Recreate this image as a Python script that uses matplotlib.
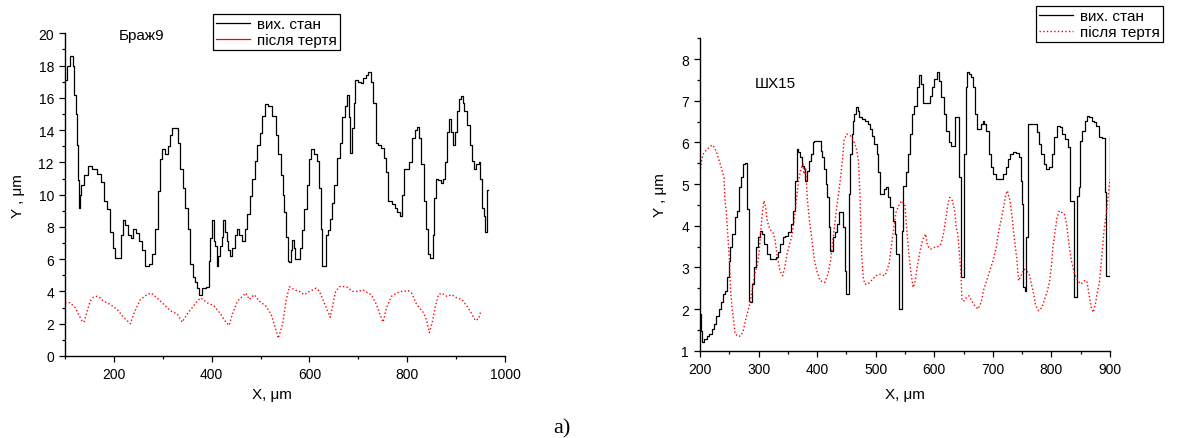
import matplotlib
matplotlib.use("Agg")
import matplotlib.pyplot as plt
from matplotlib.ticker import MultipleLocator

plt.rcParams['font.family'] = ['Liberation Sans', 'DejaVu Sans']

# --- Браж9 profile (left panel) ---
braz_x0 = [102, 104.8, 113.7, 117.1, 120.6, 122.6, 125.3, 127.4, 129.5, 132.2, 134.9, 141.1,
           151.4, 158.2, 171.9, 175.4, 182.2, 189, 195.9, 200.7, 204.8, 211.7, 216.5, 219.9,
           225.4, 233.6, 237, 241.8, 248.6, 254.1, 261, 267.8, 276, 281.5, 288.4, 291.8,
           296.6, 302.1, 307.6, 312.4, 315.8, 321.3, 329.5, 332.9, 337.7, 343.2, 348.7,
           353.5, 358.9, 363.7, 367.2, 372, 377.4, 384.3, 393.2, 395.9, 399.3, 402.8, 406.2,
           408.9, 411.7, 415.1, 418.5, 422, 425.4, 429.5, 432.2, 435.7, 440.4, 444.6, 449.4,
           452.8, 459.6, 465.1, 469.9, 474.7, 480.2, 485, 490.5, 495.2, 500.7, 506.2, 511,
           519.9, 528.1, 533.6, 538.4, 543.2, 547, 550, 553.5, 557, 560.3, 562.3, 565.8,
           569.2, 572.6, 578.1, 582.9, 587.7, 591.8, 596.6, 601.4, 606.9, 612.3, 617.1,
           621.9, 625.3, 627.4, 632.2, 634.3, 639.7, 644.5, 648, 653.4, 660.3, 665.1, 669.9,
           675.4, 678.8, 682.2, 685.6, 689.1, 692.5, 695.9, 702.8, 708.2, 711.7, 717.8,
           723.3, 728.1, 733.6, 738.4, 743.9, 749.3, 754.1, 758.9, 764.4, 771.3, 776.7,
           781.5, 788.4, 791.8, 795.2, 802.1, 806.9, 812.4, 817.8, 822.6, 826.1, 831.5,
           836.3, 841.1, 844.5, 850, 853.5, 856.9, 860.3, 867.2, 872, 875.4, 879.5, 884.3,
           887.7, 892.5, 895.9, 900, 902.8, 908.3, 911.7, 915.1, 919.2, 925.4, 930.2, 934.3,
           939.1, 943.9, 948, 951.4, 954.9, 957.6, 961, 963, 964.4]
braz_y0 = [17.1, 18.0, 18.6, 18.0, 16.2, 15.0, 13.1, 10.9, 9.2, 10.0, 10.6, 11.2,
           11.8, 11.6, 11.3, 10.8, 9.6, 9.1, 7.7, 6.7, 6.1, 6.1, 7.5, 8.45,
           8.1, 7.5, 7.3, 7.9, 7.6, 7.1, 6.6, 5.6, 5.7, 6.3, 7.9, 10.2,
           12.2, 12.8, 12.5, 13.0, 13.7, 14.1, 14.1, 13.2, 11.6, 10.4, 9.2,
           7.9, 5.7, 4.9, 4.6, 4.2, 3.8, 4.2, 4.3, 5.9, 7.3, 8.45, 7.1,
           6.8, 5.6, 6.2, 6.8, 7.4, 8.45, 7.7, 7.1, 6.6, 6.2, 6.7, 7.5,
           7.9, 7.5, 7.1, 7.9, 8.8, 9.9, 11.0, 12.1, 13.1, 13.8, 14.9, 15.6,
           15.5, 14.9, 13.7, 12.5, 11.2, 10.0, 8.9, 7.4, 5.9, 5.8, 6.6, 7.2,
           6.7, 6.0, 6.0, 6.7, 7.8, 9.1, 10.6, 12.2, 12.8, 12.5, 12.1,
           10.4, 7.9, 5.6, 5.6, 7.5, 7.8, 8.5, 9.5, 10.6, 12.3, 13.2, 14.8,
           15.5, 16.2, 14.8, 12.6, 14.1, 15.7, 17.1, 17.0, 16.9, 17.2, 17.4,
           17.6, 17.0, 15.7, 13.2, 13.1, 12.9, 12.3, 11.4, 9.6, 9.4, 9.2,
           8.9, 8.7, 10.0, 11.6, 11.6, 12.0, 13.5, 14.0, 14.2, 13.5, 11.9,
           9.6, 7.9, 6.3, 6.1, 7.5, 9.8, 11.0, 10.9, 10.7, 11.0, 12.0, 13.9,
           14.7, 13.9, 13.1, 13.9, 15.2, 15.9, 16.1, 15.7, 15.2, 14.3, 13.1, 12.1,
           11.6, 11.9, 12.0, 11.0, 9.2, 8.7, 7.7, 7.7, 10.3]

braz_x1 = [100, 110.3, 120.6, 127.4, 134.3, 139, 144.5, 151.4, 158.2, 165.1, 171.9, 178.8,
           192.5, 206.2, 219.9, 233.6, 240.4, 254.1, 267.8, 276, 288.4, 302.1, 315.8, 329.5,
           339.8, 350, 360.3, 370.6, 377.4, 391.1, 404.8, 418.5, 428.8, 435.7, 442.5, 452.8,
           463.1, 469.9, 476.8, 487, 497.3, 511, 521.3, 530.2, 536.3, 545.3, 552, 558.9,
           569.2, 579.5, 589.7, 600, 613.7, 620.6, 627.4, 634.3, 642.5, 648, 653.4, 661.7,
           675.4, 689.1, 699.3, 709.6, 719.9, 726.7, 737, 743.9, 750.7, 757.6, 767.8, 778.1,
           788.4, 802.1, 808.9, 819.2, 832.9, 839.8, 845.2, 852.1, 856.9, 863.7, 870.6,
           880.9, 891.1, 901.4, 911.7, 922, 932.2, 939.1, 946, 950.7]
braz_y1 = [3.3, 3.3, 3.0, 2.6, 2.2, 2.1, 2.7, 3.4, 3.65, 3.7, 3.6, 3.4,
           3.2, 2.9, 2.4, 2.0, 2.6, 3.5, 3.8, 3.9, 3.6, 3.2, 2.8, 2.6,
           2.1, 2.6, 3.0, 3.4, 3.6, 3.3, 3.1, 2.6, 2.1, 1.9, 2.6, 3.4,
           3.7, 3.9, 3.5, 3.8, 3.4, 3.1, 2.6, 1.75, 1.1, 2.0, 3.4, 4.3,
           4.1, 4.0, 3.8, 4.0, 4.2, 4.0, 3.5, 3.0, 2.4, 3.2, 4.0, 4.3,
           4.3, 4.0, 4.0, 4.1, 3.9, 3.8, 3.2, 2.6, 2.1, 3.0, 3.7, 3.9,
           4.0, 4.05, 3.9, 3.2, 2.7, 2.2, 1.45, 2.2, 3.0, 3.8, 3.9,
           3.7, 3.8, 3.6, 3.5, 3.1, 2.6, 2.2, 2.3, 2.8]

# --- ШХ15 profile (right panel) ---
shx_x0 = [200, 202.7, 205.5, 209.8, 213.7, 217.5, 221.9, 226.2, 230.1, 233.9, 237.2, 241,
          244.8, 248.1, 250.3, 253.5, 257.4, 261.2, 264.5, 268.3, 272.1, 275.4, 279.2, 282,
          284.7, 287.4, 290.2, 294, 298.4, 301.1, 303.8, 308.2, 312, 317.5, 322.9, 328.4,
          332.2, 335.5, 339.3, 343.2, 348.6, 353, 357.4, 361.2, 363.9, 366.7, 369.4, 372.1,
          374.8, 378.7, 380.3, 383.6, 386.9, 391.2, 394, 396.7, 404.9, 407.6, 410.4, 413.1,
          415.8, 418.6, 421.3, 424, 426.8, 428.4, 432.2, 436, 439.3, 443.1, 445.9, 448.6,
          450.2, 453, 455.7, 457.9, 459.5, 462.3, 465, 467.7, 470.5, 473.2, 478.7, 484.1,
          488.5, 492.3, 496.1, 499.4, 503.3, 506, 508.7, 512.5, 515.8, 519.6, 522.4, 527.8,
          532.2, 533.6, 536.3, 539.1, 540.2, 543.4, 545.6, 548.9, 551.1, 553.3, 556.6,
          559.8, 563.7, 567.5, 571.9, 575.7, 580.1, 582.8, 591, 593.7, 598.1, 601.9, 605.7,
          610.1, 614.5, 618.3, 622.1, 626.5, 630.9, 634.7, 637.4, 641.8, 644, 645.6, 647.3,
          650, 652.7, 654.9, 656.5, 660.4, 664.7, 668.6, 671.3, 674.6, 678.4, 681.1, 683.9,
          686.6, 691, 694.8, 698.6, 703, 708.5, 715, 719.4, 723.8, 727.6, 731.4, 735.8,
          742.3, 746.7, 749.4, 751.1, 752.2, 756, 758.7, 762, 774, 776.8, 780.6, 785,
          789.3, 793.1, 798.6, 802.4, 806.8, 811.2, 816.6, 820.5, 825.9, 829.8, 833,
          836.9, 838.5, 842.9, 845.1, 847.8, 850.5, 854.9, 858.7, 862.5, 866.9, 871.3,
          875.1, 877.8, 883, 891, 893, 895, 899, 900]
shx_y0 = [1.88, 1.48, 1.22, 1.28, 1.36, 1.4, 1.52, 1.64, 1.84, 2.0, 2.16, 2.36,
          2.44, 2.76, 3.16, 3.48, 3.8, 4.2, 4.36, 4.92, 5.16, 5.48, 5.5, 4.4,
          2.2, 2.16, 2.6, 3.0, 3.48, 3.72, 3.88, 3.8, 3.56, 3.32, 3.2, 3.2,
          3.24, 3.36, 3.56, 3.72, 3.76, 3.84, 4.04, 4.36, 5.08, 5.84, 5.76, 5.64,
          5.44, 5.36, 5.08, 5.32, 5.56, 5.72, 6.0, 6.04, 6.04, 5.8, 5.64, 5.36,
          5.0, 4.68, 3.96, 3.4, 3.4, 3.72, 3.84, 4.04, 4.32, 4.32, 3.96, 2.92,
          2.36, 2.36, 4.76, 5.72, 6.2, 6.52, 6.68, 6.84, 6.76, 6.6, 6.56, 6.52,
          6.44, 6.32, 6.16, 5.96, 5.72, 5.28, 4.76, 4.76, 4.88, 4.92, 4.68, 4.44,
          4.12, 3.8, 3.32, 3.32, 2.0, 2.0, 3.88, 4.96, 4.96, 5.28, 5.72,
          6.2, 6.68, 6.88, 7.32, 7.62, 7.4, 6.94, 6.94, 7.12, 7.32, 7.52, 7.68,
          7.48, 7.08, 6.68, 6.28, 6.0, 5.92, 5.92, 6.6, 6.6, 5.16, 3.96, 2.76,
          2.76, 5.72, 7.32, 7.68, 7.64, 7.56, 7.32, 6.68, 6.32, 6.32, 6.44, 6.52,
          6.44, 6.28, 5.72, 5.4, 5.24, 5.12, 5.12, 5.24, 5.4, 5.6, 5.72, 5.76,
          5.74, 5.64, 5.08, 4.52, 2.52, 2.44, 3.72, 6.44, 6.44, 6.24, 5.96, 5.72,
          5.48, 5.36, 5.4, 5.72, 6.12, 6.4, 6.36, 6.2, 6.08, 5.88, 4.6,
          4.6, 2.28, 2.28, 4.72, 4.92, 6.04, 6.28, 6.52, 6.64, 6.6, 6.52,
          6.48, 6.4, 6.13, 6.1, 4.8, 2.8, 2.8, 6.15]

shx_x1 = [200, 202.7, 205.5, 209.8, 215.3, 220.8, 224.6, 228.4, 232.8, 237.2, 241, 242.6,
          244.8, 248.1, 250.3, 251.9, 254.6, 257.4, 260.1, 265.6, 269.9, 273.8, 277.6, 282,
          286.3, 290.2, 294, 298.4, 301.1, 303.8, 306.5, 309.3, 312, 314.7, 319.1, 324.6,
          328.4, 332.2, 336.6, 341, 344.8, 348.6, 353, 357.4, 361.2, 365, 368.3, 372.1,
          375.9, 377.6, 380.3, 383, 386.9, 391.2, 395.6, 399.4, 404.9, 413.1, 418.6, 422.9,
          426.8, 430.6, 435, 439.3, 443.1, 445.9, 450.2, 456.8, 462.3, 466.6, 470.5, 473.2,
          475.9, 478.7, 481.4, 486.9, 492.3, 500.5, 506, 515.8, 522.7, 527.1, 530.9, 534.7,
          539.1, 544.5, 550, 552.7, 556.6, 559.8, 563.7, 566.4, 570.8, 574.6, 578.4, 581.7,
          585.5, 588.2, 593.7, 599.2, 604.6, 611.2, 615.6, 619.9, 623.8, 626.5, 630.9,
          634.7, 637.4, 640.2, 642.9, 645.6, 647.3, 651.1, 655, 659.3, 663.7, 669.1, 674.6,
          680, 683.9, 689.3, 694.8, 700.3, 705.7, 709.5, 713.9, 718.3, 722.1, 724.8, 729.2,
          733, 735.8, 738.5, 741.2, 744, 749.4, 753.3, 757.6, 762, 765.8, 769.7, 773,
          778.4, 783.9, 787.7, 793.1, 797, 800.3, 802.4, 805.7, 809.5, 813.4, 817.7, 822.1,
          826, 829.8, 834.1, 839.6, 845.1, 850.5, 856, 860.4, 864.2, 868, 871.3, 875.1,
          877.8, 882, 886, 890, 894, 897, 900]
shx_y1 = [5.28, 5.56, 5.72, 5.8, 5.88, 5.94, 5.88, 5.76, 5.56, 5.36, 5.16, 4.6,
          4.36, 3.64, 3.16, 2.52, 2.04, 1.72, 1.4, 1.34, 1.36, 1.48, 1.72, 1.96,
          2.2, 2.56, 2.88, 3.08, 3.4, 3.88, 4.32, 4.6, 4.44, 4.12, 3.92, 3.84,
          3.64, 3.24, 2.92, 2.8, 3.0, 3.32, 3.56, 3.8, 4.2, 4.68, 5.08, 5.36,
          5.48, 5.24, 5.4, 4.68, 4.12, 3.64, 3.16, 2.92, 2.68, 2.64, 2.84, 3.16,
          3.64, 4.12, 4.6, 5.08, 5.56, 6.04, 6.2, 6.16, 6.04, 5.88, 5.56, 4.68,
          3.32, 2.76, 2.6, 2.6, 2.68, 2.8, 2.84, 2.8, 3.08, 3.56, 3.96, 4.32,
          4.48, 4.6, 4.48, 3.96, 3.32, 2.92, 2.52, 2.6, 3.0, 3.32, 3.56, 3.72,
          3.8, 3.52, 3.44, 3.48, 3.48, 3.56, 3.8, 4.2, 4.56, 4.68, 4.6,
          4.36, 3.96, 3.8, 3.32, 2.84, 2.2, 2.2, 2.28, 2.32, 2.2, 2.08, 2.0,
          2.16, 2.44, 2.68, 2.92, 3.16, 3.48, 3.84, 4.12, 4.44, 4.76, 4.84, 4.6,
          4.2, 3.8, 3.48, 3.16, 2.68, 2.84, 2.96, 2.92, 2.84, 2.6, 2.36, 2.08,
          1.96, 2.04, 2.2, 2.44, 2.68, 3.08, 3.48, 3.8, 4.2, 4.36, 4.32, 4.28,
          4.04, 3.56, 3.16, 2.84, 2.68, 2.6, 2.68, 2.68, 2.36, 2.04, 1.92, 2.12,
          2.36, 2.64, 3.28, 3.92, 4.32, 4.72, 5.12]

labels = ['вих. стан', 'після тертя']

W, H = 1183, 439
fig = plt.figure(figsize=(W / 100, H / 100), dpi=100)


def style_axes(ax, xmaj, xmin, ymaj, ymin):
    ax.spines['top'].set_visible(False)
    ax.spines['right'].set_visible(False)
    for s in ('left', 'bottom'):
        ax.spines[s].set_linewidth(1.0)
    ax.xaxis.set_major_locator(MultipleLocator(xmaj))
    ax.xaxis.set_minor_locator(MultipleLocator(xmin))
    ax.yaxis.set_major_locator(MultipleLocator(ymaj))
    ax.yaxis.set_minor_locator(MultipleLocator(ymin))
    ax.tick_params(which='major', direction='out', length=4.5, width=0.9, labelsize=10)
    ax.tick_params(which='minor', direction='out', length=2.5, width=0.9)


# left panel
ax1 = fig.add_axes([65 / W, 1 - 357 / H, 440 / W, 322.7 / H])
ax1.plot(braz_x0, braz_y0, color='black', lw=0.9, drawstyle='steps-mid', label=labels[0])
ax1.plot(braz_x1, braz_y1, color='red', lw=1.0, ls=':', label=labels[1])
ax1.set_xlim(100, 1000)
ax1.set_ylim(0, 20)
style_axes(ax1, 200, 100, 2, 1)
ax1.xaxis.set_major_locator(MultipleLocator(200))
ax1.set_xlabel('X, μm', fontsize=11)
ax1.set_ylabel('Y , μm', fontsize=11)
ax1.xaxis.set_label_coords(0.47, -0.096)
ax1.yaxis.set_label_coords(-0.091, 0.5)
from matplotlib.lines import Line2D
h1 = [Line2D([], [], color='black', lw=0.9), Line2D([], [], color='red', lw=0.9)]
leg1 = ax1.legend(h1, labels, loc='upper left', bbox_to_anchor=(213 / W, 1 - 15 / H),
                  bbox_transform=fig.transFigure, borderaxespad=0, fancybox=False,
                  edgecolor='black', framealpha=1, fontsize=11, handlelength=2.2,
                  handletextpad=0.5, labelspacing=0.15, borderpad=0.2)
leg1.get_frame().set_linewidth(0.9)
fig.text(119 / W, 1 - 40 / H, 'Браж9', fontsize=11, va='baseline')

# right panel
ax2 = fig.add_axes([700 / W, 1 - 351.7 / H, 410 / W, 312.4 / H])
ax2.plot(shx_x0, shx_y0, color='black', lw=0.9, drawstyle='steps-mid', label=labels[0])
ax2.plot(shx_x1, shx_y1, color='red', lw=1.0, ls=':', label=labels[1])
ax2.set_xlim(200, 900)
ax2.set_ylim(1, 8.5)
style_axes(ax2, 100, 50, 1, 0.5)
ax2.set_xlabel('X, μm', fontsize=11)
ax2.set_ylabel('Y , μm', fontsize=11)
ax2.xaxis.set_label_coords(0.5, -0.116)
ax2.yaxis.set_label_coords(-0.08, 0.5)
leg2 = ax2.legend(loc='upper left', bbox_to_anchor=(1036 / W, 1 - 7 / H),
                  bbox_transform=fig.transFigure, borderaxespad=0, fancybox=False,
                  edgecolor='black', framealpha=1, fontsize=11, handlelength=2.2,
                  handletextpad=0.5, labelspacing=0.15, borderpad=0.2)
leg2.get_frame().set_linewidth(0.9)
fig.text(755 / W, 1 - 88 / H, 'ШХ15', fontsize=11, va='baseline')

fig.text(553 / W, 1 - 433 / H, 'a)', fontsize=16, family='Liberation Serif', va='baseline')

fig.savefig('out.png', dpi=100)
